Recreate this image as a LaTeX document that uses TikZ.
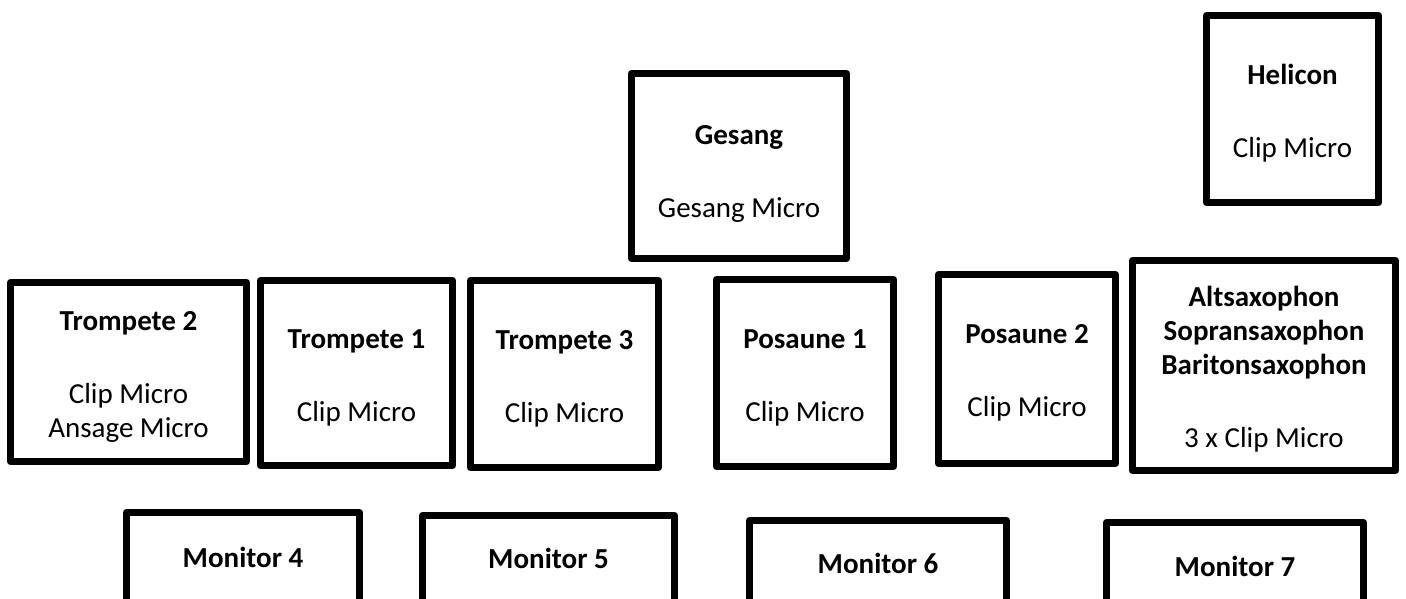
\documentclass[tikz,border=0pt]{standalone}
\usepackage{fontspec}
\setmainfont{Carlito}
\begin{document}
\begin{tikzpicture}[x=1pt,y=-1pt,
  box/.style={draw=black,line width=7pt,line join=round,fill=white,inner sep=0pt},
  txt/.style={inner sep=0pt,align=center,font=\fontsize{29}{34}\selectfont},
]
\useasboundingbox (0,0) rectangle (1406,598);
\clip (0,0) rectangle (1406,598);
\node[box,minimum width=236,minimum height=179] (t2) at (128.5,372) {};
\node[txt] (t2txt) at ([yshift=-5pt]t2.center) {\textbf{Trompete 2}\\[39pt]Clip Micro\\Ansage Micro};
\node[box,minimum width=192,minimum height=185] (t1) at (356.5,373) {};
\node[txt] (t1txt) at ([yshift=-5pt]t1.center) {\textbf{Trompete 1}\\[39pt]Clip Micro};
\node[box,minimum width=188,minimum height=187] (t3) at (564.5,374) {};
\node[txt] (t3txt) at ([yshift=-5pt]t3.center) {\textbf{Trompete 3}\\[39pt]Clip Micro};
\node[box,minimum width=215,minimum height=185] (ges) at (739,166) {};
\node[txt] (gestxt) at ([yshift=-8pt]ges.center) {\textbf{Gesang}\\[39pt]Gesang Micro};
\node[box,minimum width=177,minimum height=187] (p1) at (805,373) {};
\node[txt] (p1txt) at ([yshift=-5pt]p1.center) {\textbf{Posaune 1}\\[39pt]Clip Micro};
\node[box,minimum width=177,minimum height=189] (p2) at (1027,369) {};
\node[txt] (p2txt) at ([yshift=-4pt]p2.center) {\textbf{Posaune 2}\\[39pt]Clip Micro};
\node[box,minimum width=172,minimum height=187] (hel) at (1292.5,109) {};
\node[txt] (heltxt) at ([yshift=-4pt]hel.center) {\textbf{Helicon}\\[39pt]Clip Micro};
\node[box,minimum width=263,minimum height=210] (sax) at (1264,365.5) {};
\node[txt] (saxtxt) at ([yshift=-4pt]sax.center) {\textbf{Altsaxophon}\\\textbf{Sopransaxophon}\\\textbf{Baritonsaxophon}\\[39pt]3 x Clip Micro};
\node[box,minimum width=233,minimum height=94] (m4) at (243,559.5) {};
\node[txt] (m4txt) at ([yshift=2pt]m4.center) {\textbf{Monitor 4}};
\node[box,minimum width=252,minimum height=87] (m5) at (548.5,559) {};
\node[txt] (m5txt) at ([yshift=1pt]m5.center) {\textbf{Monitor 5}};
\node[box,minimum width=257,minimum height=86] (m6) at (878,563.5) {};
\node[txt] (m6txt) at (m6.center) {\textbf{Monitor 6}};
\node[box,minimum width=257,minimum height=88] (m7) at (1235,566.5) {};
\node[txt] (m7txt) at (m7.center) {\textbf{Monitor 7}};
\end{tikzpicture}
\end{document}
